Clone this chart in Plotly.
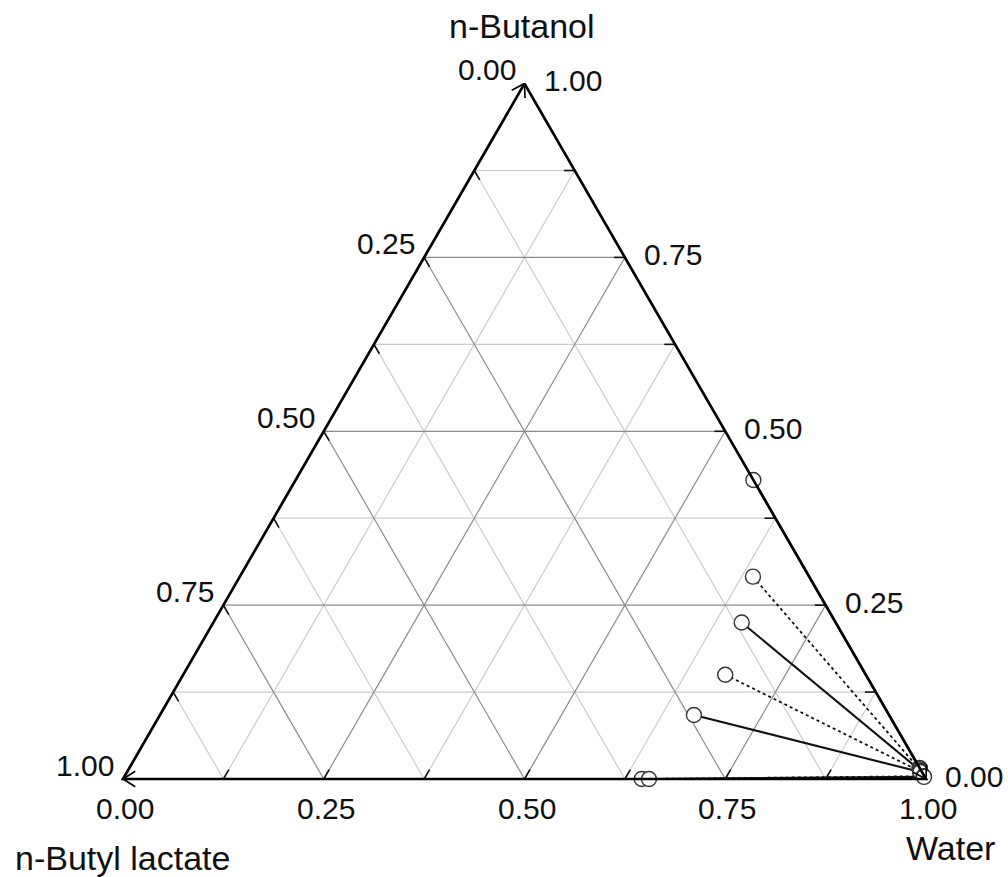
import numpy as np
import plotly.graph_objects as go

# Liquid-liquid equilibrium of n-butanol / n-butyl lactate / water (mass fractions)
apex_titles = ["n-Butanol", "n-Butyl lactate", "Water"]
tick_values = [0.00, 0.25, 0.50, 0.75, 1.00]
tick_labels = ["0.00", "0.25", "0.50", "0.75", "1.00"]

# organic (solvent-rich) phase compositions
org_butanol = [0.430, 0.291, 0.225, 0.150, 0.092, 0.000, 0.000]
org_lactate = [0.000, 0.070, 0.117, 0.175, 0.243, 0.354, 0.345]
# aqueous phase compositions in equilibrium with them
aq_butanol = [0.016, 0.014, 0.012, 0.011, 0.010, 0.004, 0.003]
aq_lactate = [0.000, 0.001, 0.001, 0.002, 0.002, 0.001, 0.001]

SQ = np.sqrt(3) / 2


def to_xy(butanol, lactate):
    """Barycentric -> Cartesian: lactate at (0,0), water at (1,0), butanol on top."""
    b = np.asarray(butanol, dtype=float)
    l = np.asarray(lactate, dtype=float)
    w = 1.0 - b - l
    return w + 0.5 * b, SQ * b


def segs(pairs):
    xs, ys = [], []
    for (x0, y0), (x1, y1) in pairs:
        xs += [x0, x1, None]
        ys += [y0, y1, None]
    return xs, ys


fig = go.Figure()

# --- grid (every 1/8, darker on the quarters) ---------------------------
major, minor = [], []
for k in range(1, 8):
    f = k / 8
    lines = [
        (to_xy(f, 1 - f), to_xy(f, 0)),          # constant butanol
        (to_xy(1 - f, f), to_xy(0, f)),          # constant lactate
        (to_xy(0, 1 - f), to_xy(1 - f, 0)),      # constant water
    ]
    (major if k % 2 == 0 else minor).extend(lines)

for group, col in ((minor, "#cccccc"), (major, "#8a8a8a")):
    xs, ys = segs(group)
    fig.add_trace(go.Scatter(x=xs, y=ys, mode="lines", hoverinfo="skip",
                             line=dict(color=col, width=1.2), showlegend=False))

# --- tie lines ------------------------------------------------------------
ox, oy = to_xy(org_butanol, org_lactate)
ax_, ay_ = to_xy(aq_butanol, aq_lactate)
for i in range(len(org_butanol)):
    dotted = i % 2 == 1
    fig.add_trace(go.Scatter(
        x=[ox[i], ax_[i]], y=[oy[i], ay_[i]], mode="lines", hoverinfo="skip",
        line=dict(color="#111111", width=1.8 if dotted else 2.1,
                  dash="dot" if dotted else "solid"),
        showlegend=False))

# --- phase points ---------------------------------------------------------
for px, py in ((ox, oy), (ax_, ay_)):
    fig.add_trace(go.Scatter(
        x=px, y=py, mode="markers", hoverinfo="skip", showlegend=False,
        marker=dict(symbol="circle", size=15, color="white",
                    line=dict(color="#333333", width=1.4))))

# --- axis ticks along the edges ---------------------------------------------
t = 0.0135
ticks = []
for k in range(1, 8):
    f = k / 8
    x0, y0 = to_xy(1 - f, f)          # left edge
    ticks.append(((x0, y0), (x0 + 0.5 * t, y0 - SQ * t)))
    x0, y0 = to_xy(0, 1 - f)          # bottom edge
    ticks.append(((x0, y0), (x0 + 0.5 * t, y0 + SQ * t)))
    x0, y0 = to_xy(f, 0)              # right edge
    ticks.append(((x0, y0), (x0 - t, y0)))
xs, ys = segs(ticks)
fig.add_trace(go.Scatter(x=xs, y=ys, mode="lines", hoverinfo="skip",
                         line=dict(color="#111", width=1.6), showlegend=False))

# --- triangle frame -------------------------------------------------------
vx, vy = to_xy([1, 0, 0, 1], [0, 1, 0, 0])
fig.add_trace(go.Scatter(x=vx, y=vy, mode="lines", hoverinfo="skip",
                         line=dict(color="#000", width=2.7), showlegend=False))

# axis direction arrowheads at the zero end of each axis
def arrow_head(tip, direction, length=0.018, half=np.radians(32)):
    dx, dy = direction
    back = np.arctan2(-dy, -dx)
    out = []
    for s in (-1, 1):
        ang = back + s * half
        out.append(((tip[0], tip[1]),
                    (tip[0] + length * np.cos(ang), tip[1] + length * np.sin(ang))))
    return out

heads = []
heads += arrow_head(to_xy(1, 0), (0.5, SQ))     # left axis, toward top
heads += arrow_head(to_xy(0, 1), (-1, 0))       # bottom axis, toward left
heads += arrow_head(to_xy(0, 0), (0.5, -SQ))    # right axis, toward bottom-right
xs, ys = segs(heads)
fig.add_trace(go.Scatter(x=xs, y=ys, mode="lines", hoverinfo="skip",
                         line=dict(color="#000", width=1.7), showlegend=False))

# --- labels -----------------------------------------------------------------
FONT = "Liberation Sans, Arial, Helvetica, sans-serif"
TXT = "#111"
ann = []
for v, s in zip(tick_values, tick_labels):
    x, y = to_xy(1 - v, v)                         # left edge: n-butyl lactate
    ann.append(dict(x=x, y=y, text=s, xshift=-38, yshift=14))
    x, y = to_xy(0, 1 - v)                         # bottom edge: water
    ann.append(dict(x=x, y=y, text=s, xshift=2, yshift=-29))
    x, y = to_xy(v, 0)                             # right edge: n-butanol
    ann.append(dict(x=x, y=y, text=s, xshift=48, yshift=3))
for a in ann:
    a.update(xref="x", yref="y", showarrow=False,
             font=dict(family=FONT, size=30, color=TXT))

tx, ty = to_xy(1, 0)
ann.append(dict(x=tx, y=ty, text=apex_titles[0], xshift=-3, yshift=58))
lx, ly = to_xy(0, 1)
ann.append(dict(x=lx, y=ly, text=apex_titles[1], xshift=-1, yshift=-79))
wx, wy = to_xy(0, 0)
ann.append(dict(x=wx, y=wy, text=apex_titles[2], xshift=24, yshift=-69))
for a in ann[-3:]:
    a.update(xref="x", yref="y", showarrow=False,
             font=dict(family=FONT, size=34, color=TXT))

fig.update_layout(
    width=1008, height=877,
    margin=dict(l=0, r=0, t=0, b=0),
    paper_bgcolor="white", plot_bgcolor="white",
    annotations=ann,
    xaxis=dict(range=[-123 / 803, 885 / 803], visible=False, fixedrange=True),
    yaxis=dict(range=[-98 / 803, 779 / 803], visible=False, fixedrange=True),
)

fig.write_html("out.html")
